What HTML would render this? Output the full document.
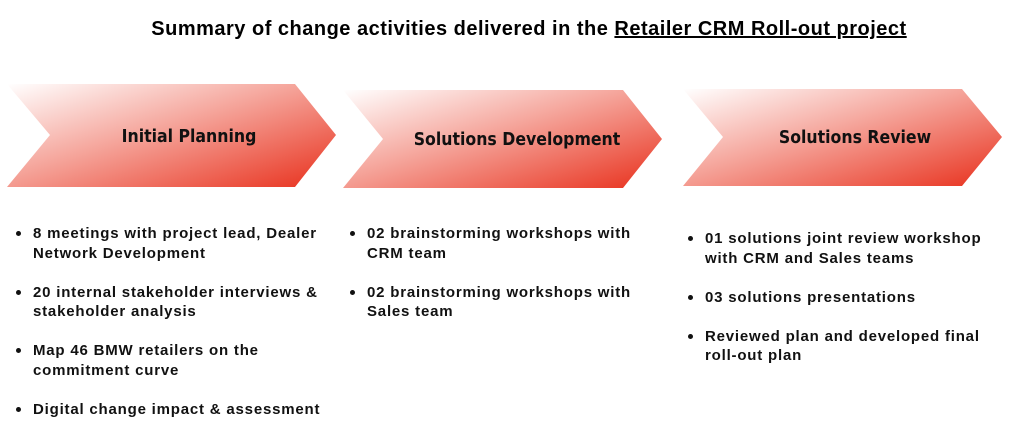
<!DOCTYPE html>
<html><head><meta charset="utf-8"><style>
body{margin:0;width:1022px;height:433px;background:#fff;position:relative;font-family:"Liberation Sans",sans-serif;overflow:hidden}
.t{position:absolute;top:18px;left:0;width:1058px;text-align:center;font-weight:bold;font-size:20px;letter-spacing:0.5px;color:#000}
.t u{text-decoration:underline}
svg{position:absolute;left:0;top:0}
ul{position:absolute;margin:0;padding:0;font-weight:bold;font-size:15px;letter-spacing:0.8px;line-height:19.5px;color:#111;list-style:none;white-space:nowrap}
li{position:relative;margin-bottom:19.5px}
li:before{content:"";position:absolute;left:-17px;top:7px;width:5px;height:5px;border-radius:50%;background:#111}
</style></head><body>
<div class="t">Summary of change activities delivered in the <u>Retailer CRM Roll-out project</u></div>
<svg width="1022" height="433">
<defs><linearGradient id="g" x1="0" y1="0" x2="1" y2="1">
<stop offset="0" stop-color="#fff"/><stop offset="0.45" stop-color="#f5a49a"/><stop offset="1" stop-color="#e8301c"/></linearGradient></defs>
<polygon points="7,84 295,84 336,135 295,187 7,187 50,135" fill="url(#g)"/>
<polygon points="343,90 623,90 662,139 623,188 343,188 383,139" fill="url(#g)"/>
<polygon points="683,89 962,89 1002,137 962,186 683,186 723,137" fill="url(#g)"/>
<g font-family="DejaVu Sans Condensed, Liberation Sans Narrow, sans-serif" font-weight="bold" font-size="17.5" fill="#111">
<text x="189" y="142" text-anchor="middle">Initial Planning</text>
<text x="517" y="145" text-anchor="middle">Solutions Development</text>
<text x="855" y="143" text-anchor="middle">Solutions Review</text>
</g></svg>
<ul style="left:33px;top:224px">
<li>8 meetings with project lead, Dealer<br>Network Development</li>
<li>20 internal stakeholder interviews &amp;<br>stakeholder analysis</li>
<li>Map 46 BMW retailers on the<br>commitment curve</li>
<li>Digital change impact &amp; assessment</li></ul>
<ul style="left:367px;top:224px">
<li>02 brainstorming workshops with<br>CRM team</li>
<li>02 brainstorming workshops with<br>Sales team</li></ul>
<ul style="left:705px;top:229px">
<li>01 solutions joint review workshop<br>with CRM and Sales teams</li>
<li>03 solutions presentations</li>
<li>Reviewed plan and developed final<br>roll-out plan</li></ul>
</body></html>
